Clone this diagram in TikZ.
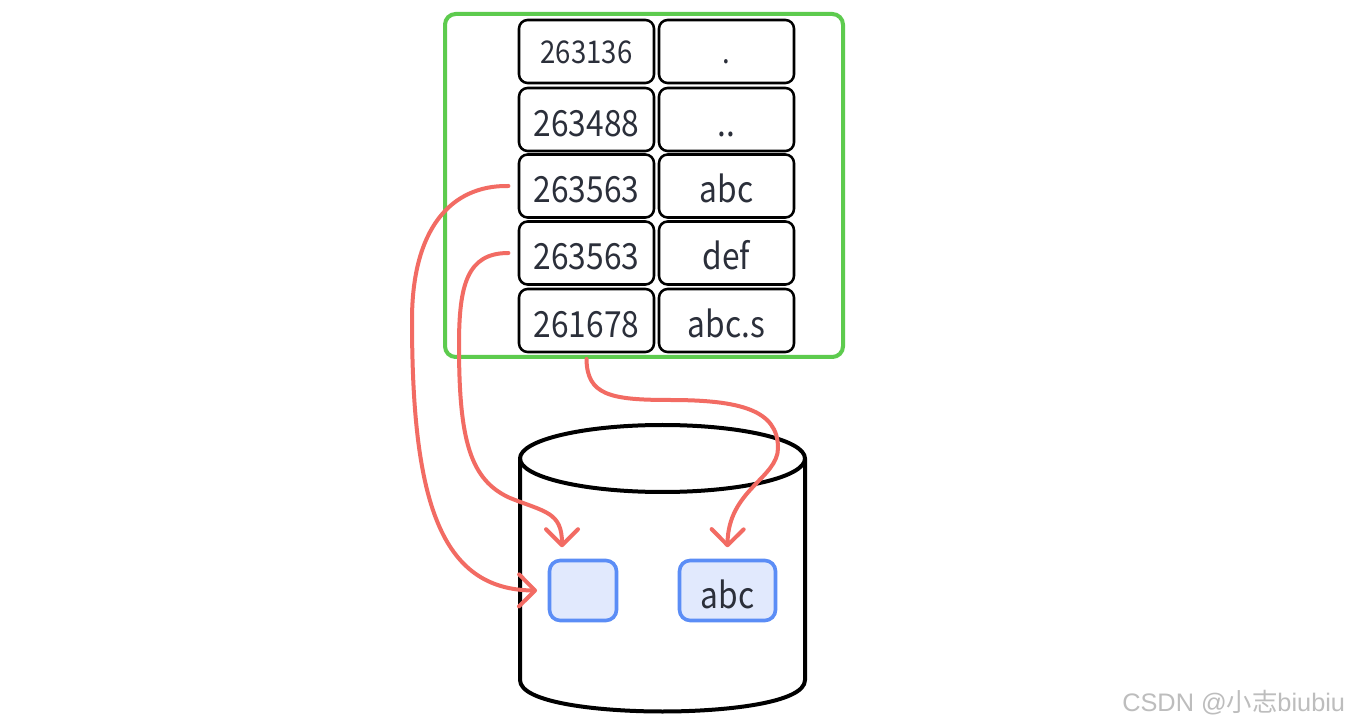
\documentclass[tikz,border=0pt]{standalone}
\usepackage{fontspec}
\setmainfont{Noto Sans CJK SC}
\newfontfamily\lbl[FakeStretch=0.88]{Noto Sans CJK SC}
\newfontfamily\wmfont{Liberation Sans}
\newfontfamily\wmcjk{Noto Sans CJK SC}
\usetikzlibrary{arrows.meta}
\definecolor{frameg}{HTML}{5DCB4E}
\definecolor{linkred}{HTML}{F26B63}
\definecolor{blkblue}{HTML}{5B8DF6}
\definecolor{blkfill}{HTML}{E1E9FD}
\definecolor{txt}{HTML}{2B2F3A}
\definecolor{wmgray}{HTML}{BDBDBD}
\begin{document}
\begin{tikzpicture}[x=0.75pt,y=-0.75pt,
  frame/.style={draw=frameg, line width=3pt, rounded corners=8pt, minimum width=298.5pt, minimum height=257.25pt},
  cell/.style={draw=black, line width=1.9pt, rounded corners=6.5pt, minimum width=101.25pt, minimum height=47.25pt,
    text=txt, font=\lbl\fontsize{27}{30}\selectfont, text height=25pt, text depth=0pt},
  celltop/.style={font=\lbl\fontsize{23.5}{26}\selectfont, text height=18pt},
  blk/.style={draw=blkblue, fill=blkfill, line width=2.7pt, rounded corners=8pt, minimum height=45pt,
    text=txt, font=\lbl\fontsize{27}{30}\selectfont, text height=26.25pt, text depth=0pt},
  cyl/.style={draw=black, line width=3pt, line join=round},
  link/.style={draw=linkred, line width=3pt, line cap=round, -{Straight Barb[length=12pt,width=24pt,round]}}
]
\useasboundingbox (0,0) rectangle (1350,723);
\fill[white] (0,0) rectangle (1350,723);

% directory frame
\node[frame] (g) at (644,185.5) {};

% table cells
\node[cell,celltop] (l1) at (586.5,51.5) {263136};
\node[cell,celltop] (r1) at (726.5,51.5) {.};
\node[cell] (l2) at (586.5,119.5) {263488};
\node[cell] (r2) at (726.5,119.5) {..};
\node[cell] (l3) at (586.5,186) {263563};
\node[cell] (r3) at (726.5,186) {abc};
\node[cell] (l4) at (586.5,253) {263563};
\node[cell] (r4) at (726.5,253) {def};
\node[cell] (l5) at (586.5,320.5) {261678};
\node[cell] (r5) at (726.5,320.5) {abc.s};

% disk cylinder
\draw[cyl] (520,458.5) -- (520,680) .. controls (520,703) and (600,711.5) .. (662.5,711.5)
  .. controls (725,711.5) and (805,703) .. (805,680) -- (805,458.5);
\draw[cyl] (662.5,458.5) ellipse [x radius=142.5, y radius=33.5];

% data blocks
\node[blk, minimum width=50.25pt] (b1) at (583,590.5) {};
\node[blk, minimum width=72pt] (b2) at (727.5,590.5) {abc};

% links
\draw[link] ([xshift=-7pt]l3.west) .. controls (450,185) and (412,230) .. (412,320)
  .. controls (412,500) and (440,590) .. ([xshift=-8pt]b1.west);
\draw[link] ([xshift=-7pt]l4.west) .. controls (467,253) and (459,285) .. (459,345)
  .. controls (459,440) and (470,480) .. (510,498)
  .. controls (545,512) and (562,512) .. ([xshift=-15.75pt,yshift=8.6pt]b1.north);
\draw[link] (g.south -| l5.south) .. controls (587,395) and (610,400) .. (670,400)
  .. controls (740,400) and (778,410) .. (778,448)
  .. controls (778,478) and (728,490) .. ([yshift=8.6pt]b2.north);

% watermark
\node[anchor=base west, inner sep=0pt, text=wmgray, font=\wmfont\fontsize{19}{22}\selectfont] (wm) at (1122,711) {CSDN @{\wmcjk 小志}biubiu};
\end{tikzpicture}
\end{document}
